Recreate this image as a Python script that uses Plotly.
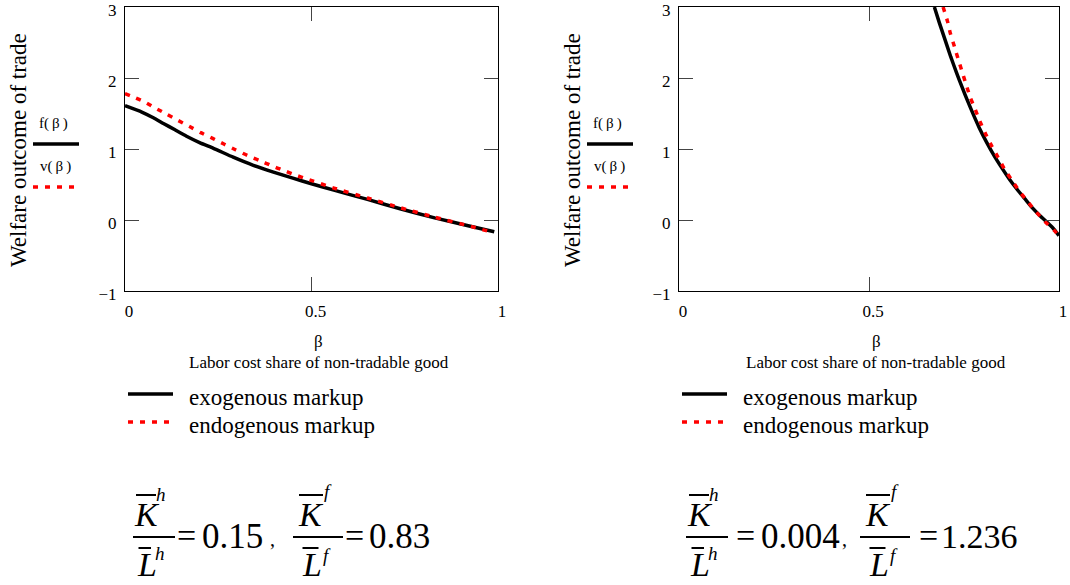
import plotly.graph_objects as go

W, H = 1070, 585
FONT = "Liberation Serif, Times New Roman, serif"

# ---------------- data ----------------
# Left panel:  K/L home = 0.15, foreign = 0.83
beta_left_f = [0.0, 0.045, 0.076, 0.103, 0.134, 0.165, 0.2, 0.237, 0.29,
               0.344, 0.398, 0.45, 0.5, 0.56, 0.65, 0.74, 0.83, 0.92, 0.99]
f_left = [1.61, 1.52, 1.44, 1.36, 1.27, 1.18, 1.09, 1.01, 0.885,
          0.77, 0.675, 0.59, 0.51, 0.42, 0.29, 0.155, 0.03, -0.08, -0.165]

beta_left_v = [0.0, 0.024, 0.054, 0.08, 0.112, 0.143, 0.172, 0.203, 0.235, 0.265,
               0.296, 0.328, 0.36, 0.393, 0.424, 0.456, 0.489, 0.56, 0.65, 0.74,
               0.83, 0.92, 0.975]
v_left = [1.78, 1.73, 1.66, 1.58, 1.49, 1.40, 1.32, 1.23, 1.15, 1.07,
          0.99, 0.91, 0.84, 0.765, 0.70, 0.635, 0.575, 0.45, 0.31, 0.17,
          0.04, -0.08, -0.16]

# Right panel: K/L home = 0.004, foreign = 1.236
beta_right_f = [0.672, 0.685, 0.70, 0.715, 0.73, 0.745, 0.76, 0.775, 0.79, 0.81,
                0.83, 0.85, 0.87, 0.89, 0.91, 0.93, 0.95, 0.97, 0.985, 1.0]
f_right = [3.0, 2.78, 2.54, 2.30, 2.08, 1.87, 1.67, 1.48, 1.30, 1.09,
           0.90, 0.73, 0.57, 0.43, 0.30, 0.17, 0.06, -0.04, -0.12, -0.22]

beta_right_v = [0.695, 0.707, 0.714, 0.725, 0.735, 0.745, 0.756, 0.767, 0.78, 0.792,
                0.807, 0.823, 0.84, 0.856, 0.876, 0.895, 0.916, 0.937, 0.963, 0.988, 1.0]
v_right = [3.0, 2.79, 2.63, 2.44, 2.26, 2.09, 1.90, 1.72, 1.55, 1.39,
           1.21, 1.04, 0.88, 0.72, 0.56, 0.41, 0.27, 0.13, -0.02, -0.15, -0.22]

x_ticks = [0, 0.5, 1]
x_ticktext = ["0", "0.5", "1"]
y_ticks = [-1, 0, 1, 2, 3]
y_ticktext = ["\u22121", "0", "1", "2", "3"]

series_names = ["exogenous markup", "endogenous markup"]
key_labels = ["f(\u2009\u03b2\u2009)", "v(\u2009\u03b2\u2009)"]
y_title = "Welfare outcome of trade"
x_symbol = "\u03b2"
x_title = "Labor cost share of non-tradable good"

formulas = [
    # (home ratio, foreign ratio)
    ("0.15", "0.83"),
    ("0.004", "1.236"),
]

BLACK = "#000000"
RED = "#ff0000"
DOT = "5px,7px"

# ---------------- helpers for pixel -> paper ----------------
def px(x):
    return x / W

def py(y):
    return 1 - y / H

fig = go.Figure()

panels = [
    dict(xa="x", ya="y", x0=125, x1=498,
         bf=beta_left_f, f=f_left, bv=beta_left_v, v=v_left),
    dict(xa="x2", ya="y2", x0=679, x1=1059,
         bf=beta_right_f, f=f_right, bv=beta_right_v, v=v_right),
]

for p in panels:
    fig.add_trace(go.Scatter(
        x=p["bf"], y=p["f"], xaxis=p["xa"], yaxis=p["ya"], mode="lines",
        line=dict(color=BLACK, width=3.5, shape="spline", smoothing=0.5),
        name=series_names[0], showlegend=False, hoverinfo="skip"))
    fig.add_trace(go.Scatter(
        x=p["bv"], y=p["v"], xaxis=p["xa"], yaxis=p["ya"], mode="lines",
        line=dict(color=RED, width=3.5, dash=DOT, shape="spline", smoothing=0.5),
        name=series_names[1], showlegend=False, hoverinfo="skip"))

axis_common = dict(
    showline=True, linecolor=BLACK, linewidth=1, mirror="ticks",
    ticks="inside", ticklen=14, tickcolor="#444", tickwidth=1,
    showgrid=False, zeroline=False, automargin=False,
    ticklabeloverflow="allow",
    tickfont=dict(family=FONT, size=17, color=BLACK),
    fixedrange=True,
)

Y_TOP, Y_BOT = 7, 291
layout = dict(
    width=W, height=H,
    margin=dict(l=0, r=0, t=0, b=0, pad=0, autoexpand=False),
    paper_bgcolor="white", plot_bgcolor="white",
    font=dict(family=FONT, color=BLACK),
    showlegend=False,
)

for i, p in enumerate(panels):
    sfx = "" if i == 0 else str(i + 1)
    layout["xaxis" + sfx] = dict(
        axis_common, domain=[px(p["x0"]), px(p["x1"])], range=[0, 1],
        tickvals=x_ticks, ticktext=x_ticktext, anchor="y" + sfx,
        ticklabelstandoff=5, ticklabelshift=4)
    layout["yaxis" + sfx] = dict(
        axis_common, domain=[py(Y_BOT), py(Y_TOP)], range=[-1, 3],
        tickvals=y_ticks, ticktext=y_ticktext, anchor="x" + sfx,
        ticklabelstandoff=4, ticklabelshift=3)

fig.update_layout(**layout)

annotations = []
shapes = []

def ann(x, y, text, size, xanchor="center", yanchor="middle", angle=0):
    annotations.append(dict(
        x=px(x), y=py(y), xref="paper", yref="paper", text=text,
        showarrow=False, xanchor=xanchor, yanchor=yanchor, textangle=angle,
        font=dict(family=FONT, size=size, color=BLACK), borderpad=0))

def hline(x0, x1, y, color=BLACK, width=2, dash=None):
    shapes.append(dict(
        type="line", xref="paper", yref="paper",
        x0=px(x0), x1=px(x1), y0=py(y), y1=py(y),
        line=dict(color=color, width=width, dash=dash)))

for i, p in enumerate(panels):
    off = p["x0"] - 125
    cx = (p["x0"] + p["x1"]) / 2
    # y-axis title
    ann(18 + off, 150, y_title, 23, angle=-90)
    # inner key
    ann(53 + off, 123, key_labels[0], 15)
    hline(33 + off, 79 + off, 144, BLACK, 3.5)
    ann(55 + off, 166, key_labels[1], 15)
    hline(33 + off, 79 + off, 187, RED, 3.5, DOT)
    # x titles
    ann(cx + 7, 341, x_symbol, 17)
    ann(cx + 7, 362, x_title, 17)
    # bottom key
    hline(p["x0"] + 3, p["x0"] + 48, 394, BLACK, 3.5)
    ann(p["x0"] + 63, 397, series_names[0], 23, xanchor="left")
    hline(p["x0"] + 3, p["x0"] + 48, 422, RED, 3.5, DOT)
    ann(p["x0"] + 63, 425, series_names[1], 23, xanchor="left")

# formulas built from text pieces
def fraction(x0, kind):
    if kind == "h":
        w, kx, kb, sx, sy, lx, lb, lsx, lsy = 42, 13.5, (3, 23), 27.5, 494, 14, (5.5, 18), 27, 553
    else:
        w, kx, kb, sx, sy, lx, lb, lsx, lsy = 50, 18, (6, 30), 35, 491, 19, (9.5, 25.5), 33.5, 555
    hline(x0, x0 + w, 537, BLACK, 2)
    ann(x0 + kx, 514, "<i>K</i>", 34)
    hline(x0 + kb[0], x0 + kb[1], 495, BLACK, 2)
    ann(x0 + sx, sy, "<i>%s</i>" % kind, 19)
    ann(x0 + lx, 564, "<i>L</i>", 34)
    hline(x0 + lb[0], x0 + lb[1], 548, BLACK, 2)
    ann(x0 + lsx, lsy, "<i>%s</i>" % kind, 19)

layout_f = [
    dict(a=133, eq1=186, v1=201, comma=272, b=293, eq2=354, v2=368),
    dict(a=686, eq1=745, v1=760, comma=844, b=860, eq2=928.5, v2=940),
]
for (hv, fv), L in zip(formulas, layout_f):
    fraction(L["a"], "h")
    ann(L["eq1"], 535, "=", 34)
    ann(L["v1"], 536, hv, 35, xanchor="left")
    ann(L["comma"], 539, ",", 20)
    fraction(L["b"], "f")
    ann(L["eq2"], 535, "=", 34)
    ann(L["v2"], 536, fv, 35 if len(fv) < 5 else 34, xanchor="left")

fig.update_layout(annotations=annotations, shapes=shapes)

fig.write_html(
    "out.html",
    config={"displayModeBar": False, "staticPlot": True},
    post_script="document.body.style.margin='0px';"
                "document.body.style.padding='0px';"
                "document.body.style.overflow='hidden';",
)
